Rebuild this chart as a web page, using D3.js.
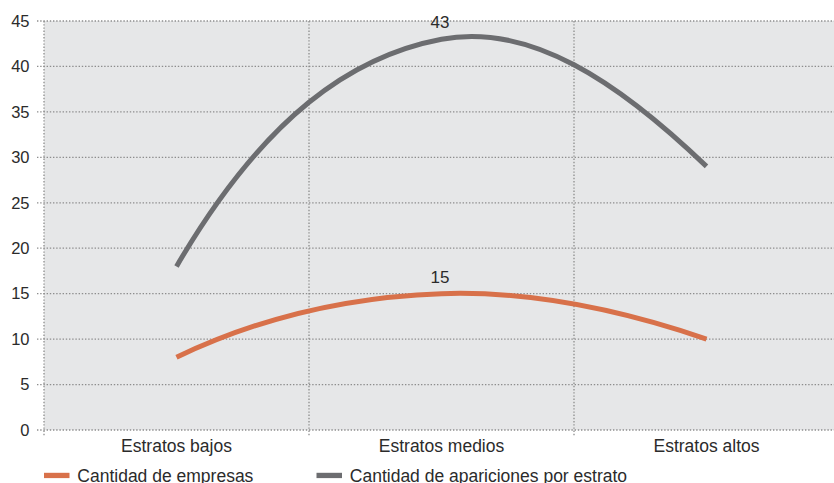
<!DOCTYPE html>
<html>
<head>
<meta charset="utf-8">
<script src="https://cdn.jsdelivr.net/npm/d3@7"></script>
<style>
  html, body { margin: 0; padding: 0; background: #fff; overflow: hidden; }
  svg { display: block; }
  text { font-family: "Liberation Sans", Arial, sans-serif; fill: #2b2b2b; }
</style>
</head>
<body>
<svg id="chart" width="834" height="483"></svg>
<script>
// Estratos socioeconómicos
const categories = ["Estratos bajos", "Estratos medios", "Estratos altos"];
const empresas = [8, 15, 10];
const apariciones = [18, 43, 29];
const seriesNames = ["Cantidad de empresas", "Cantidad de apariciones por estrato"];
const yTicks = [0, 5, 10, 15, 20, 25, 30, 35, 40, 45];

const colors = { empresas: "#d8714a", apariciones: "#6c6d70" };
const FONT = 17.5;

const W = 834, H = 483;
const m = { left: 44, top: 21, right: -5, bottom: 53 };
const innerW = W - m.left - m.right;
const innerH = H - m.top - m.bottom;

const svg = d3.select("#chart");
const g = svg.append("g").attr("transform", `translate(${m.left},${m.top})`);

const x = d3.scaleBand().domain(categories).range([0, innerW]);
const y = d3.scaleLinear().domain([0, 45]).range([innerH, 0]);

// Smooth x-monotone Hermite curve: central-difference slopes at inner points,
// doubled chord slope at the two ends, drawn as cubic Bezier segments.
function smoothCurve(context) {
  let pts = [];
  return {
    areaStart() {}, areaEnd() {},
    lineStart() { pts = []; },
    point(px, py) { pts.push([+px, +py]); },
    lineEnd() {
      const n = pts.length;
      if (!n) return;
      context.moveTo(pts[0][0], pts[0][1]);
      if (n < 3) { if (n === 2) context.lineTo(pts[1][0], pts[1][1]); return; }
      const slope = (a, b) => (b[1] - a[1]) / (b[0] - a[0]);
      const s = pts.map((p, i) => {
        if (i === 0) return 2 * slope(pts[0], pts[1]);
        if (i === n - 1) return 2 * slope(pts[n - 2], pts[n - 1]);
        return slope(pts[i - 1], pts[i + 1]);
      });
      for (let i = 0; i < n - 1; i++) {
        const a = pts[i], b = pts[i + 1], dx = (b[0] - a[0]) / 3;
        context.bezierCurveTo(a[0] + dx, a[1] + s[i] * dx,
                              b[0] - dx, b[1] - s[i + 1] * dx, b[0], b[1]);
      }
    }
  };
}

// plot background
g.append("rect").attr("x", 0).attr("y", 0)
  .attr("width", innerW).attr("height", innerH).attr("fill", "#e6e7e8");

const gridColor = "#8d8d8d";
const dash = "1.4,1.8";

// horizontal gridlines and y tick marks
g.append("g").selectAll("line").data(yTicks).join("line")
  .attr("x1", -7).attr("x2", innerW)
  .attr("y1", d => y(d)).attr("y2", d => y(d))
  .attr("stroke", gridColor).attr("stroke-width", 1.3)
  .attr("stroke-dasharray", dash);

// vertical category separators (and left axis)
const seps = [0, ...categories.slice(1).map(c => x(c))];
g.append("g").selectAll("line").data(seps).join("line")
  .attr("x1", d => d).attr("x2", d => d)
  .attr("y1", 0).attr("y2", innerH + 7)
  .attr("stroke", gridColor).attr("stroke-width", 1.3)
  .attr("stroke-dasharray", dash);

// y axis labels
const yAxis = d3.axisLeft(y).tickValues(yTicks).tickSize(0).tickPadding(14.5);
const ya = g.append("g").attr("font-family", null).call(yAxis);
ya.attr("font-family", null);
ya.select(".domain").remove();
ya.selectAll("text").attr("font-size", 16.5).attr("fill", "#2b2b2b");

// x axis labels
const xAxis = d3.axisBottom(x).tickSize(0).tickPadding(9.3);
const xa = g.append("g").attr("transform", `translate(0,${innerH})`).call(xAxis);
xa.attr("font-family", null);
xa.select(".domain").remove();
xa.selectAll("text").attr("font-size", FONT).attr("fill", "#2b2b2b");

// smoothed lines
const cx = c => x(c) + x.bandwidth() / 2;
const line = d3.line().x((d, i) => cx(categories[i])).y(d => y(d)).curve(smoothCurve);

[["apariciones", apariciones], ["empresas", empresas]].forEach(([k, vals]) => {
  g.append("path").datum(vals).attr("d", line)
    .attr("fill", "none").attr("stroke", colors[k]).attr("stroke-width", 5);
});

// value labels at the middle stratum
[[apariciones, 1], [empresas, 1]].forEach(([vals, i]) => {
  g.append("text").attr("x", cx(categories[i]) - 1.5).attr("y", y(vals[i]) - 10.7)
    .attr("text-anchor", "middle").attr("font-size", 17).text(vals[i]);
});

// legend
const legend = svg.append("g").attr("transform", `translate(44,475.4)`);
const legItems = [
  { name: seriesNames[0], color: colors.empresas, x: 0 },
  { name: seriesNames[1], color: colors.apariciones, x: 272.5 }
];
legItems.forEach(it => {
  legend.append("rect").attr("x", it.x).attr("y", -2.6).attr("width", 25.5).attr("height", 5.3).attr("fill", it.color);
  legend.append("text").attr("x", it.x + 33.3).attr("y", 6.6).attr("font-size", FONT).text(it.name);
});
</script>
</body>
</html>
